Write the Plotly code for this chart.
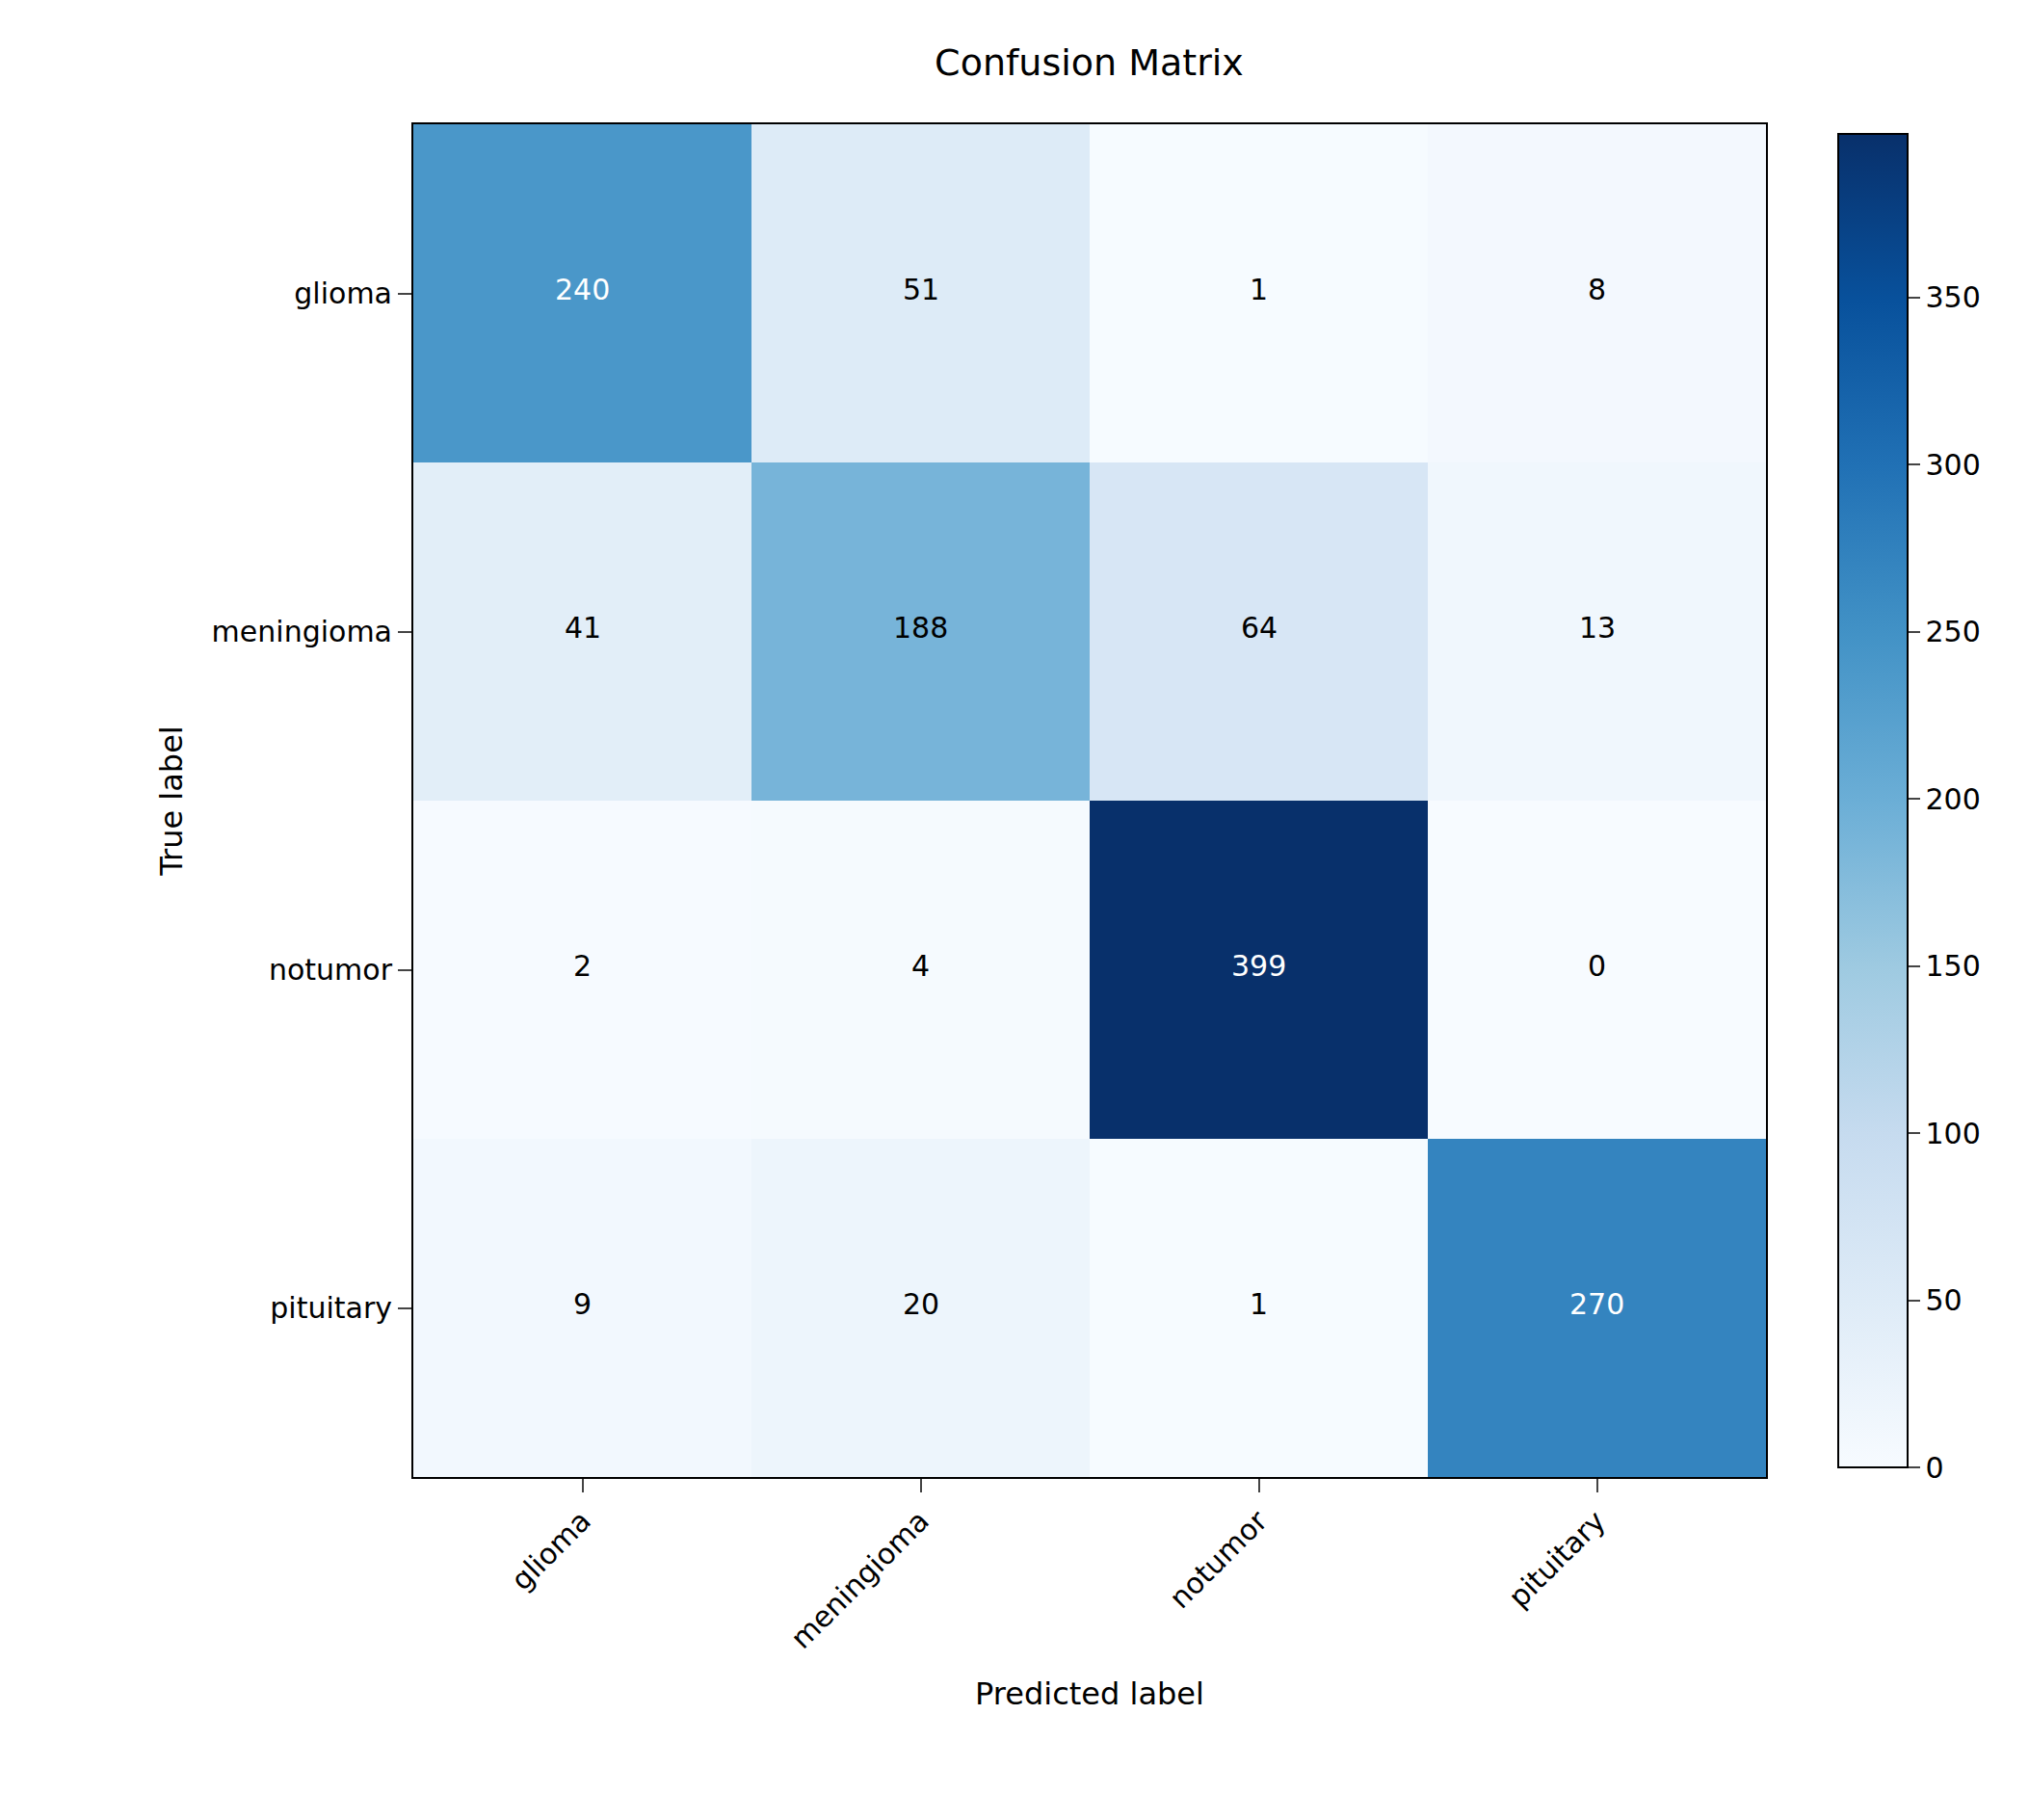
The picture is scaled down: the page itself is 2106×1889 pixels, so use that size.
import plotly.graph_objects as go

labels = ["glioma", "meningioma", "notumor", "pituitary"]
matrix = [[240, 51, 1, 8],
          [41, 188, 64, 13],
          [2, 4, 399, 0],
          [9, 20, 1, 270]]

blues = ["#f7fbff", "#deebf7", "#c6dbef", "#9ecae1", "#6baed6",
         "#4292c6", "#2171b5", "#08519c", "#08306b"]
cs = [[i / 8, c] for i, c in enumerate(blues)]
zmax = max(max(r) for r in matrix)

fig = go.Figure(go.Heatmap(
    z=matrix, x=labels, y=labels, colorscale=cs, zmin=0, zmax=zmax,
    colorbar=dict(x=1.046, xanchor="left", y=0.5, len=1.0, lenmode="fraction",
                  thickness=72, outlinecolor="black", outlinewidth=2,
                  tickvals=[0, 50, 100, 150, 200, 250, 300, 350],
                  ticks="outside", ticklen=12, tickwidth=2,
                  tickfont=dict(size=30, color="black")),
    hoverinfo="skip"))

ann = []
for i, row in enumerate(matrix):
    for j, v in enumerate(row):
        ann.append(dict(x=labels[j], y=labels[i], text=str(v), showarrow=False,
                        yshift=4,
                        font=dict(size=30, color="white" if v > zmax / 2 else "black")))

fig.update_layout(
    width=2106, height=1889, paper_bgcolor="white", plot_bgcolor="white",
    margin=dict(l=421, r=281, t=121, b=364),
    font=dict(family="DejaVu Sans", size=30, color="black"),
    title=dict(text="Confusion Matrix", x=0.533, xanchor="center", y=0.977,
               yanchor="top", font=dict(size=38)),
    annotations=ann,
)
fig.update_xaxes(title=dict(text="Predicted label", font=dict(size=32), standoff=30),
                 tickangle=-45, ticks="outside", ticklen=14, tickwidth=2,
                 showline=True, linecolor="black", linewidth=2, mirror=True,
                 showgrid=False, tickfont=dict(size=30))
fig.update_yaxes(title=dict(text="True label", font=dict(size=32), standoff=20),
                 autorange="reversed", ticks="outside", ticklen=14, tickwidth=2,
                 showline=True, linecolor="black", linewidth=2, mirror=True,
                 showgrid=False, tickfont=dict(size=30))
fig.write_html("out.html")
